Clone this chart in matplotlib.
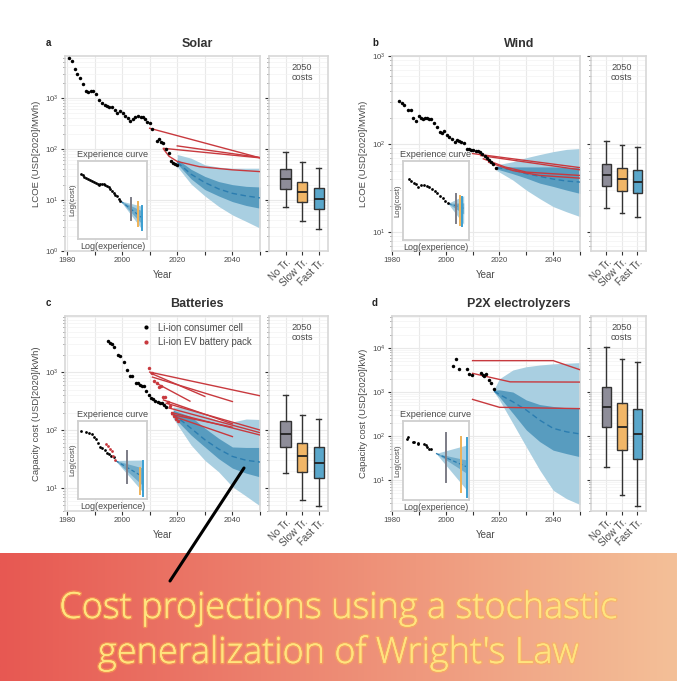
import numpy as np
import matplotlib
matplotlib.use("Agg")
import matplotlib.pyplot as plt
import matplotlib.patheffects as pe
from matplotlib.lines import Line2D
from matplotlib.ticker import LogLocator, NullFormatter, FixedLocator, FuncFormatter

plt.rcParams['font.family'] = ['Liberation Sans', 'DejaVu Sans']

# ---------------- data ----------------
solar_year = [1980.8, 1981.8, 1982.8, 1983.7, 1984.7, 1985.7, 1986.9, 1987.6, 1988.6, 1989.5,
              1990.5, 1991.7, 1992.7, 1993.7, 1994.4, 1995.3, 1996.3, 1997.3, 1998.2, 1999.2,
              2000.2, 2001.1, 2002.1, 2002.9, 2003.8, 2004.8, 2005.8, 2006.7, 2007.7, 2008.4,
              2009.1, 2010.1, 2010.9, 2012.6, 2013.4, 2014.0, 2014.7, 2015.9, 2017.0, 2017.6,
              2018.4, 2019.1, 2019.8]
solar_cost = [6000, 5200, 3700, 3000, 2450, 1860, 1380, 1320, 1350, 1350,
              1200, 930, 790, 740, 690, 680, 660, 575, 510, 550,
              500, 445, 405, 355, 390, 415, 445, 425, 415, 390,
              340, 330, 245, 145, 155, 138, 129, 98, 83, 58,
              54, 51, 48]

wind_year = [1982.7, 1983.7, 1984.5, 1986.0, 1987.0, 1987.9, 1988.9, 1989.9, 1990.7, 1991.4,
             1992.2, 1992.9, 1993.7, 1994.6, 1995.6, 1996.9, 1997.9, 1998.6, 1999.4, 2000.6,
             2001.3, 2002.3, 2003.3, 2004.1, 2005.1, 2005.8, 2006.8, 2007.8, 2008.6, 2009.5,
             2010.3, 2011.3, 2012.0, 2012.8, 2013.5, 2014.5, 2015.3, 2016.0, 2017.0, 2017.7,
             2018.7]
wind_cost = [308, 290, 280, 245, 243, 200, 184, 209, 197, 195,
             197, 200, 195, 195, 175, 157, 137, 135, 140, 128,
             121, 115, 105, 111, 109, 105, 103, 88, 87, 85,
             85, 83, 83, 81, 78, 73, 69, 66, 63, 60,
             54]

cell_year = [1994.8, 1995.5, 1996.2, 1996.9, 1998.6, 1999.3, 2000.6, 2001.8, 2002.7, 2003.7,
             2004.9, 2005.6, 2006.4, 2007.1, 2007.8, 2008.8, 2009.7, 2010.5, 2011.2, 2011.9,
             2012.9, 2013.6, 2014.3, 2015.1, 2015.8]
cell_cost = [3390, 3200, 3100, 2680, 1980, 1890, 1490, 1080, 850, 850,
             650, 640, 590, 575, 575, 475, 395, 357, 338, 312,
             304, 296, 290, 273, 246]
ev_year = [2009.9, 2010.7, 2011.6, 2012.5, 2013.3, 2014.1, 2014.7, 2015.7, 2016.5, 2017.4,
           2018.1, 2018.8, 2019.5, 2020.3]
ev_cost = [1160, 950, 710, 650, 560, 575, 375, 365, 310, 260, 200, 175, 158, 145]

p2x_year = [2002.8, 2003.8, 2005.1, 2008.0, 2008.8, 2009.8, 2013.0, 2013.8, 2014.3, 2015.0,
            2016.0, 2017.0, 2018.0]
p2x_cost = [3900, 5500, 3400, 3280, 2560, 2460, 2650, 2460, 2300, 2560, 1870, 1580, 1190]

# past forecasts (red lines): (years, values)
solar_fc = [([2010, 2050], [255, 67]),
            ([2015, 2050], [103, 67]),
            ([2020, 2050], [115, 68]),
            ([2015, 2017, 2020, 2028, 2040, 2050], [100, 72, 57, 45, 39, 36])]
wind_fc = [([2010, 2050], [78, 54]),
           ([2013, 2050], [74, 51]),
           ([2014, 2022, 2030, 2050], [68, 55, 48, 44]),
           ([2016, 2025, 2035, 2050], [62, 50, 44, 41])]
batt_fc = [([2010, 2050], [1000, 390]),
           ([2010.5, 2030], [950, 380]),
           ([2011, 2040], [820, 310]),
           ([2012.5, 2024.6], [640, 315]),
           ([2015, 2040], [330, 128]),
           ([2016, 2050], [290, 100]),
           ([2017, 2050], [240, 90]),
           ([2018, 2050], [200, 82]),
           ([2018, 2040], [185, 112]),
           ([2019, 2040], [170, 77])]
p2x_fc = [([2010, 2040, 2050], [5150, 5150, 3200]),
          ([2010, 2024, 2050], [2650, 1700, 1680]),
          ([2010, 2020, 2050], [680, 450, 420])]

# forecast fans: years, lo95, lo68, median, hi68, hi95
solar_fan_year = [2020, 2025, 2030, 2035, 2040, 2045, 2050]
solar_lo95 = [45, 20.6, 12, 7.5, 5.1, 3.8, 2.8]
solar_lo68 = [51, 26, 16, 12, 9.3, 7.8, 6.9]
solar_med = [55, 32, 22, 16.5, 13.5, 12, 11]
solar_hi68 = [63, 40, 29, 23, 20, 18.5, 18]
solar_hi95 = [78, 66, 49, 44, 42, 42, 42]

wind_fan_year = [2019, 2025, 2030, 2035, 2040, 2045, 2050]
wind_lo95 = [50, 39, 30, 24, 19.5, 17, 15]
wind_lo68 = [52, 46, 41, 36, 33, 30, 27.5]
wind_med = [54, 51, 46, 43, 40, 38, 37]
wind_hi68 = [56, 55, 55, 55, 55, 54, 54]
wind_hi95 = [58, 63, 70, 76, 82, 87, 89]

batt_fan_year = [2018.5, 2025, 2030, 2035, 2040, 2045, 2050]
batt_lo95 = [160, 55, 30, 19, 10.5, 7.2, 4.9]
batt_lo68 = [170, 82, 51, 32, 22, 18, 15.5]
batt_med = [190, 107, 68, 47, 35, 30, 28]
batt_hi68 = [220, 170, 108, 72, 51, 50, 50]
batt_hi95 = [250, 235, 180, 145, 138, 155, 152]

p2x_fan_year = [2018, 2020, 2025, 2030, 2035, 2040, 2045, 2050]
p2x_lo95 = [1000, 660, 195, 57, 17, 5.9, 3.8, 2.8]
p2x_lo68 = [1000, 770, 330, 138, 75, 48, 40, 34]
p2x_med = [1050, 880, 600, 390, 230, 150, 125, 112]
p2x_hi68 = [1100, 1120, 1000, 660, 520, 470, 440, 425]
p2x_hi95 = [1150, 2000, 3160, 3750, 4100, 4350, 4500, 4650]

# 2050 cost distributions: whislo, q1, med, q3, whishi
scenarios = ["No Tr.", "Slow Tr.", "Fast Tr."]
solar_box = [[7.4, 16.5, 26, 40, 89], [3.9, 9.3, 14.6, 23, 55], [2.7, 6.6, 10.5, 17, 43]]
wind_box = [[18.6, 33, 45, 60, 109], [16.3, 29, 40, 54, 97], [15, 27.5, 37, 51, 92]]
batt_box = [[18, 50, 85, 143, 400], [6.2, 19, 35, 59, 182], [4.8, 15, 27.5, 50, 158]]
p2x_box = [[19.5, 158, 465, 1320, 10700], [4.6, 48, 163, 550, 5600], [2.6, 30, 111, 410, 4900]]

# experience-curve insets (normalised log experience / log cost)
solar_in_x = [0.048, 0.068, 0.092, 0.111, 0.140, 0.169, 0.198, 0.227, 0.256, 0.285, 0.304, 0.324,
              0.348, 0.372, 0.396, 0.420, 0.444, 0.469, 0.493, 0.517, 0.541, 0.565, 0.589, 0.614]
solar_in_y = [0.834, 0.817, 0.800, 0.787, 0.774, 0.757, 0.745, 0.736, 0.723, 0.706, 0.689, 0.702,
              0.711, 0.706, 0.698, 0.681, 0.664, 0.638, 0.617, 0.587, 0.566, 0.545, 0.515, 0.489]
solar_in_fan = ([0.614, 0.93], [0.489, 0.12], [0.489, 0.19], [0.489, 0.27], [0.489, 0.36], [0.489, 0.42])
solar_in_vl = [(0.768, 0.238, 0.523), (0.870, 0.162, 0.468), (0.928, 0.119, 0.426)]

wind_in_x = [0.085, 0.12, 0.16, 0.20, 0.23, 0.27, 0.32, 0.36, 0.40, 0.44, 0.48, 0.52, 0.56, 0.60, 0.64, 0.68]
wind_in_y = [0.768, 0.751, 0.726, 0.709, 0.675, 0.696, 0.696, 0.684, 0.667, 0.641, 0.616, 0.591,
             0.561, 0.527, 0.498, 0.464]
wind_in_fan = ([0.68, 0.92], [0.464, 0.20], [0.464, 0.33], [0.464, 0.40], [0.464, 0.47], [0.464, 0.56])
wind_in_vl = [(0.80, 0.22, 0.58), (0.86, 0.19, 0.56), (0.90, 0.18, 0.55)]

batt_in_x = [0.048, 0.121, 0.159, 0.198, 0.227, 0.256, 0.285, 0.324, 0.353, 0.391, 0.42, 0.449, 0.478, 0.517]
batt_in_y = [0.872, 0.864, 0.851, 0.834, 0.80, 0.774, 0.723, 0.672, 0.655, 0.630, 0.596, 0.579, 0.557, 0.536]
batt_in_rx = [0.411, 0.435, 0.459, 0.488, 0.507, 0.541]
batt_in_ry = [0.706, 0.677, 0.643, 0.609, 0.557, 0.494]
batt_in_fan = ([0.541, 0.93], [0.494, 0.10], [0.494, 0.18], [0.494, 0.29], [0.494, 0.40], [0.494, 0.50])
batt_in_vl = [(0.71, 0.204, 0.609), (0.903, 0.068, 0.396), (0.942, 0.034, 0.481)]

p2x_in_x = [0.06, 0.07, 0.15, 0.17, 0.22, 0.23, 0.32, 0.35, 0.37, 0.40, 0.42]
p2x_in_y = [0.772, 0.793, 0.738, 0.734, 0.717, 0.705, 0.709, 0.696, 0.675, 0.650, 0.641]
p2x_in_fan = ([0.50, 0.965], [0.59, 0.127], [0.59, 0.338], [0.59, 0.42], [0.59, 0.506], [0.59, 0.696])
p2x_in_vl = [(0.65, 0.232, 0.852), (0.88, 0.097, 0.793), (0.965, 0.042, 0.78)]

# ---------------- styling ----------------
W, H = 677, 681
fig = plt.figure(figsize=(W / 100, H / 100), dpi=100)
fig.patch.set_facecolor('white')


def rect(l, t, r, b):
    return [l / W, 1 - b / H, (r - l) / W, (b - t) / H]


TXT = '#4a4a4a'
GRID = '#e9e9e9'
SPINE = '#d8d8d8'
RED = '#c8393e'
LIGHT = '#a9cfe1'
DARK = '#4a93ba'
MEDC = '#2b7db0'
BOXC = ['#8e8d99', '#f1b667', '#5aa7cb']
VLC = ['#7c7c86', '#efb257', '#3c9fd1']


def style_log(ax, ylim):
    ax.set_yscale('log')
    ax.set_ylim(*ylim)
    ax.yaxis.set_major_locator(LogLocator(base=10, numticks=12))
    ax.yaxis.set_minor_locator(LogLocator(base=10, subs=np.arange(2, 10), numticks=12))
    ax.yaxis.set_minor_formatter(NullFormatter())
    ax.grid(True, which='major', color=GRID, lw=0.8, zorder=0)
    ax.grid(True, which='minor', axis='y', color='#f3f3f3', lw=0.5, zorder=0)
    ax.set_axisbelow(True)
    for s in ax.spines.values():
        s.set_color(SPINE)
        s.set_linewidth(1.2)
    ax.tick_params(which='major', length=3, width=0.8, color='#333333', labelsize=5.6,
                   labelcolor=TXT, pad=1.5)
    ax.tick_params(which='minor', length=1.6, width=0.6, color='#555555')


def draw_main(ax, xlim, ylim, series, fcs, fan, ylabel, title_x, title_y, title, letter):
    style_log(ax, ylim)
    ax.set_xlim(*xlim)
    ax.xaxis.set_major_locator(FixedLocator([1980, 1990, 2000, 2010, 2020, 2030, 2040, 2050]))
    ax.xaxis.set_major_formatter(FuncFormatter(
        lambda v, p: f'{int(round(v))}' if int(round(v)) in (1980, 2000, 2020, 2040) else ''))
    fy, lo95, lo68, med, hi68, hi95 = fan
    ax.fill_between(fy, lo95, hi95, color=LIGHT, lw=0, zorder=1)
    ax.fill_between(fy, lo68, hi68, color=DARK, lw=0, alpha=0.85, zorder=2)
    ax.plot(fy, med, ls=(0, (4, 2.5)), color=MEDC, lw=1.0, zorder=3)
    for yrs, vals in fcs:
        ax.plot(yrs, vals, color=RED, lw=1.0, zorder=4)
    for xs, ys, c in series:
        ax.plot(xs, ys, 'o', ms=2.5, color=c, mec='none', zorder=5)
    ax.set_xlabel('Year', fontsize=7, color=TXT, labelpad=4)
    ax.set_ylabel(ylabel, fontsize=6.8, color=TXT, labelpad=3)
    fig.text(title_x / W, 1 - title_y / H, title, ha='center', va='center', fontsize=9,
             fontweight='bold', color='#333333')
    fig.text(letter[0] / W, 1 - letter[1] / H, letter[2], ha='center', va='center', fontsize=7,
             fontweight='bold', color='#222222')


def draw_box(ax, ylim, stats):
    style_log(ax, ylim)
    ax.yaxis.set_major_formatter(NullFormatter())
    bx = [dict(whislo=s[0], q1=s[1], med=s[2], q3=s[3], whishi=s[4], fliers=[], label=lab)
          for s, lab in zip(stats, scenarios)]
    b = ax.bxp(bx, positions=[0, 1, 2], widths=0.62, patch_artist=True, showfliers=False,
               capwidths=0.3,
               boxprops=dict(edgecolor='#333333', linewidth=1.0),
               whiskerprops=dict(color='#333333', linewidth=1.0),
               capprops=dict(color='#333333', linewidth=1.0),
               medianprops=dict(color='#222222', linewidth=1.3))
    for patch, c in zip(b['boxes'], BOXC):
        patch.set_facecolor(c)
    ax.set_xlim(-1.0, 2.55)
    ax.set_xticks([0, 1, 2])
    ax.set_xticklabels(scenarios, rotation=45, ha='right', rotation_mode='anchor',
                       fontsize=7, color=TXT)
    ax.grid(True, which='major', axis='x', color=GRID, lw=0.8)
    ax.text(0.56, 0.915, '2050\ncosts', transform=ax.transAxes, ha='center', va='center',
            fontsize=6.6, color=TXT, linespacing=1.1)


def draw_inset(r, xs, ys, fan, vls, extra=None):
    ax = fig.add_axes(rect(*r))
    ax.set_zorder(5)
    ax.set_facecolor('white')
    ax.set_xlim(0, 1)
    ax.set_ylim(0, 1)
    ax.set_xticks([])
    ax.set_yticks([])
    for s in ax.spines.values():
        s.set_color('#cfcfcf')
        s.set_linewidth(1.3)
    fx, lo95, lo68, med, hi68, hi95 = fan
    ax.fill_between(fx, lo95, hi95, color=LIGHT, lw=0, zorder=1)
    ax.fill_between(fx, lo68, hi68, color=DARK, lw=0, alpha=0.6, zorder=2)
    ax.plot(fx, med, ls=(0, (3, 2)), color=MEDC, lw=0.9, zorder=3)
    for (x, y0, y1), c in zip(vls, VLC):
        ax.plot([x, x], [y0, y1], color=c, lw=1.4, zorder=4)
    ax.plot(xs, ys, 'o', ms=2.0, color='black', mec='none', zorder=5)
    if extra is not None:
        ax.plot(extra[0], extra[1], 'o', ms=2.0, color=RED, mec='none', zorder=5)
    ax.set_title('Experience curve', fontsize=6.6, color=TXT, pad=3)
    ax.set_xlabel('Log(experience)', fontsize=6.5, color=TXT, labelpad=2)
    ax.set_ylabel('Log(cost)', fontsize=5.6, color=TXT, labelpad=1.5)
    return ax


# ---------------- panels ----------------
# a: Solar
axa = fig.add_axes(rect(65, 56, 260, 251))
draw_main(axa, (1979.3, 2050), (1, 6650), [(solar_year, solar_cost, 'black')], solar_fc,
          (solar_fan_year, solar_lo95, solar_lo68, solar_med, solar_hi68, solar_hi95),
          'LCOE (USD[2020]/MWh)', 197, 44, 'Solar', (48, 43, 'a'))
axab = fig.add_axes(rect(269, 56, 328, 251))
draw_box(axab, (1, 6650), solar_box)
draw_inset((78, 161, 147, 239), solar_in_x, solar_in_y, solar_in_fan, solar_in_vl)

# b: Wind
axb = fig.add_axes(rect(392, 56, 580, 251))
draw_main(axb, (1980, 2050), (6.1, 1000), [(wind_year, wind_cost, 'black')], wind_fc,
          (wind_fan_year, wind_lo95, wind_lo68, wind_med, wind_hi68, wind_hi95),
          'LCOE (USD[2020]/MWh)', 519, 44, 'Wind', (375, 43, 'b'))
axbb = fig.add_axes(rect(591, 56, 646, 251))
draw_box(axbb, (6.1, 1000), wind_box)
draw_inset((403, 161, 469, 240), wind_in_x, wind_in_y, wind_in_fan, wind_in_vl)

# c: Batteries
axc = fig.add_axes(rect(65, 316, 260, 511))
draw_main(axc, (1979.3, 2050), (4, 9300),
          [(cell_year, cell_cost, 'black'), (ev_year, ev_cost, RED)], batt_fc,
          (batt_fan_year, batt_lo95, batt_lo68, batt_med, batt_hi68, batt_hi95),
          'Capacity cost (USD[2020]/kWh)', 197, 304, 'Batteries', (48, 303, 'c'))
leg_h = [Line2D([], [], ls='none', marker='o', ms=3, color='black', mec='none'),
         Line2D([], [], ls='none', marker='o', ms=3, color=RED, mec='none')]
axc.legend(leg_h, ['Li-ion consumer cell', 'Li-ion EV battery pack'], loc='upper right',
           bbox_to_anchor=(1.0, 1.01), frameon=False, fontsize=6.9, handletextpad=0.6,
           labelspacing=0.45, handlelength=1.2, labelcolor=TXT)
axcb = fig.add_axes(rect(269, 316, 328, 511))
draw_box(axcb, (4, 9300), batt_box)
draw_inset((78, 421, 147, 499), batt_in_x, batt_in_y, batt_in_fan, batt_in_vl,
           extra=(batt_in_rx, batt_in_ry))

# d: P2X electrolyzers
axd = fig.add_axes(rect(392, 316, 580, 511))
draw_main(axd, (1980, 2050), (2, 53000), [(p2x_year, p2x_cost, 'black')], p2x_fc,
          (p2x_fan_year, p2x_lo95, p2x_lo68, p2x_med, p2x_hi68, p2x_hi95),
          'Capacity cost (USD[2020]/kW)', 519, 304, 'P2X electrolyzers', (375, 303, 'd'))
axdb = fig.add_axes(rect(591, 316, 646, 511))
draw_box(axdb, (2, 53000), p2x_box)
draw_inset((403, 421, 469, 500), p2x_in_x, p2x_in_y, p2x_in_fan, p2x_in_vl)

# ---------------- banner ----------------
bax = fig.add_axes([0, 0, 1, 128 / H])
bax.set_zorder(0)
left_c = np.array([231, 88, 82]) / 255
right_c = np.array([244, 192, 152]) / 255
t = np.linspace(0, 1, 400)[None, :, None]
grad = left_c[None, None, :] * (1 - t) + right_c[None, None, :] * t
bax.imshow(grad, aspect='auto', extent=(0, 1, 0, 1))
bax.set_axis_off()

glow = [pe.withStroke(linewidth=2.2, foreground=(1.0, 0.72, 0.30, 0.45)), pe.Normal()]
for txt, yb in [('Cost projections using a stochastic', 618),
                ("generalization of Wright's Law", 663)]:
    fig.text(0.5, 1 - yb / H, txt, ha='center', va='baseline', fontsize=26,
             family=['Open Sans', 'DejaVu Sans'], fontweight='light', color='#ffe47e',
             path_effects=glow, zorder=20)

fig.add_artist(Line2D([170 / W, 244 / W], [1 - 581 / H, 1 - 468 / H], transform=fig.transFigure,
                      color='black', lw=2.2, solid_capstyle='round', zorder=30))

fig.savefig('out.png', dpi=100)
